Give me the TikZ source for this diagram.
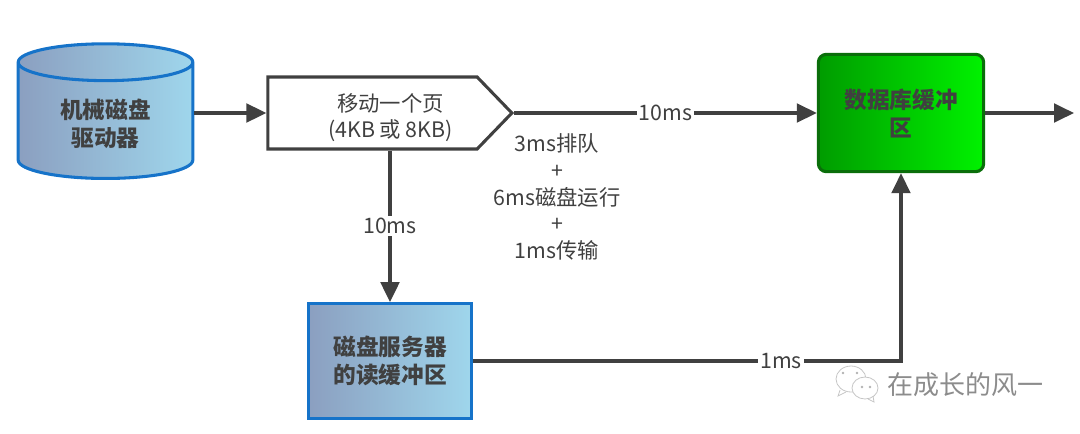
\documentclass[tikz,border=0pt]{standalone}
\usepackage{fontspec}
\setmainfont{Noto Sans CJK SC}
\usetikzlibrary{arrows.meta,shapes.geometric,shapes.symbols}
\definecolor{linegray}{HTML}{404040}
\definecolor{bluedark}{HTML}{1673C9}
\definecolor{blueleft}{HTML}{8B9FC0}
\definecolor{blueright}{HTML}{9FD6EC}
\definecolor{greendark}{HTML}{0A6E0A}
\definecolor{greenleft}{HTML}{009C00}
\definecolor{greenright}{HTML}{00F200}
\tikzset{
    conn/.style={draw=linegray, line width=2.3pt, -{Triangle[length=15pt,width=14pt]}},
    boxtext/.style={text=linegray, font=\fontsize{17}{21}\selectfont\bfseries, align=center},
    bluefill/.style={draw=bluedark, line width=2.3pt, left color=blueleft, right color=blueright},
    lbl/.style={text=linegray, font=\fontsize{16}{19.5}\selectfont, fill=white, inner sep=1.5pt},
}
\begin{document}
\begin{tikzpicture}[x=0.75pt, y=-0.75pt]
    \useasboundingbox (0,0) rectangle (1080,433);
    \node (disk) [cylinder, shape border rotate=90, aspect=0.37, bluefill, boxtext, minimum width=131pt, minimum height=101pt] at (105.5,124) {机械磁盘\\驱动器};
    \node (page) [signal, signal to=east, signal pointer angle=92, draw=linegray, line width=2.3pt, minimum width=183pt, minimum height=54pt, inner sep=0pt, text=linegray, font=\fontsize{16}{19.5}\selectfont, align=center] at (372.5,113) {\rule{0pt}{21pt}\hspace{27pt}移动一个页\\\hspace{27pt}(4KB 或 8KB)};
    \node (dbbuf) [rectangle, rounded corners=6pt, draw=greendark, line width=2.3pt, left color=greenleft, right color=greenright, boxtext, minimum width=124pt, minimum height=88pt] at (901,113) {数据库缓冲\\区};
    \node (readbuf) [rectangle, bluefill, boxtext, minimum width=122pt, minimum height=86pt] at (390,361) {磁盘服务器\\的读缓冲区};
    \node (cost) [text=linegray, font=\fontsize{16}{20}\selectfont, align=center] at (557,197) {3ms排队\\+\\6ms磁盘运行\\+\\1ms传输};
    \coordinate (out) at (1074,113);

    \draw [conn] (disk.east |- page) -- (page.west);
    \draw [conn] (page.east) -- node [lbl] {10ms} (dbbuf);
    \draw [conn] (dbbuf) -- (out);
    \draw [conn] (page.south -| readbuf) -- node [lbl] {10ms} (readbuf);
    \draw [conn] (readbuf) -| node [lbl, pos=0.36] {1ms} (dbbuf);

    % watermark
    \begin{scope}[draw=gray!45, line width=0.6pt]
        \draw (851,379) ellipse (15 and 13);
        \draw (840,390) -- (838,396) -- (846,392);
        \draw[fill=white] (865,388) ellipse (13 and 11);
        \draw (868,399) -- (874,402) -- (873,396);
        \fill[gray!60] (843,373) circle (1.3) (857,373) circle (1.3) (862,387) circle (1.3) (870,387) circle (1.3);
    \end{scope}
    \node (mark) [text=gray!90, font=\fontsize{19.5}{24}\selectfont] at (965,385) {在成长的风一};
\end{tikzpicture}
\end{document}
